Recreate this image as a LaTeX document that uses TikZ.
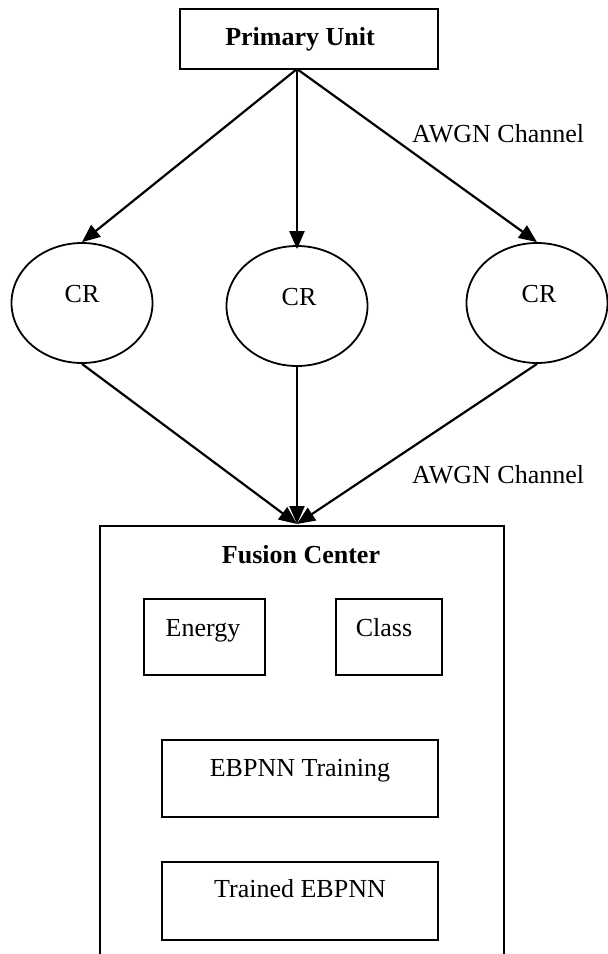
\documentclass[tikz,border=0pt]{standalone}
\usepackage{fontspec}
\setmainfont{Liberation Serif}
\usetikzlibrary{arrows.meta,shapes.geometric}
\tikzset{
  boxstyle/.style={draw=black, line width=2pt, rectangle, inner sep=0pt},
  crstyle/.style={draw=black, line width=1.8pt, ellipse, inner sep=0pt, minimum width=141pt, minimum height=120pt},
  arr/.style={draw=black, line width=2.2pt, -{Triangle[length=18pt,width=15pt]}},
  lbl/.style={anchor=base, inner sep=0pt, font=\fontsize{26}{30}\selectfont},
  blbl/.style={lbl, font=\fontsize{26}{30}\selectfont\bfseries}
}
\begin{document}
\begin{tikzpicture}[x=1pt,y=-1pt]
\useasboundingbox (0,0) rectangle (608,954);
\clip (0,0) rectangle (608,954);
\fill[white] (0,0) rectangle (608,954);
% Primary unit
\node[boxstyle, minimum width=258pt, minimum height=60pt] (pu) at (309,39) {};
\node[blbl] (putxt) at (300,45) {Primary Unit};
\coordinate (src) at (297,69);
% CR nodes
\node[crstyle] (cr1) at (82,303) {};
\node[crstyle] (cr2) at (297,306) {};
\node[crstyle] (cr3) at (537,303) {};
\node[lbl] (cr1t) at (82,302) {CR};
\node[lbl] (cr2t) at (299,305) {CR};
\node[lbl] (cr3t) at (539,302) {CR};
% Fusion center
\node[boxstyle, minimum width=404pt, minimum height=600pt] (fc) at (302,826) {};
\node[blbl] (fct) at (301,563) {Fusion Center};
\node[boxstyle, minimum width=121pt, minimum height=76pt] (en) at (204.5,637) {};
\node[lbl] (ent) at (203,636) {Energy};
\node[boxstyle, minimum width=106pt, minimum height=76pt] (cl) at (389,637) {};
\node[lbl] (clt) at (384,636) {Class};
\node[boxstyle, minimum width=276pt, minimum height=77pt] (tr) at (300,778.5) {};
\node[lbl] (trt) at (300,776) {EBPNN Training};
\node[boxstyle, minimum width=276pt, minimum height=78pt] (td) at (300,901) {};
\node[lbl] (tdt) at (300,897) {Trained EBPNN};
% labels
\node[lbl, anchor=base west] (awgn1) at (412,142) {AWGN Channel};
\node[lbl, anchor=base west] (awgn2) at (412,483) {AWGN Channel};
% arrows
\coordinate (sink) at (297,524);
\draw[arr] (src) -- (cr1.north);
\draw[arr] (src) -- ([yshift=-4pt]cr2.north);
\draw[arr] (src) -- (cr3.north);
\draw[arr] (cr1.south) -- (sink);
\draw[arr] (cr2.south) -- (sink);
\draw[arr] (cr3.south) -- (sink);
\end{tikzpicture}
\end{document}
